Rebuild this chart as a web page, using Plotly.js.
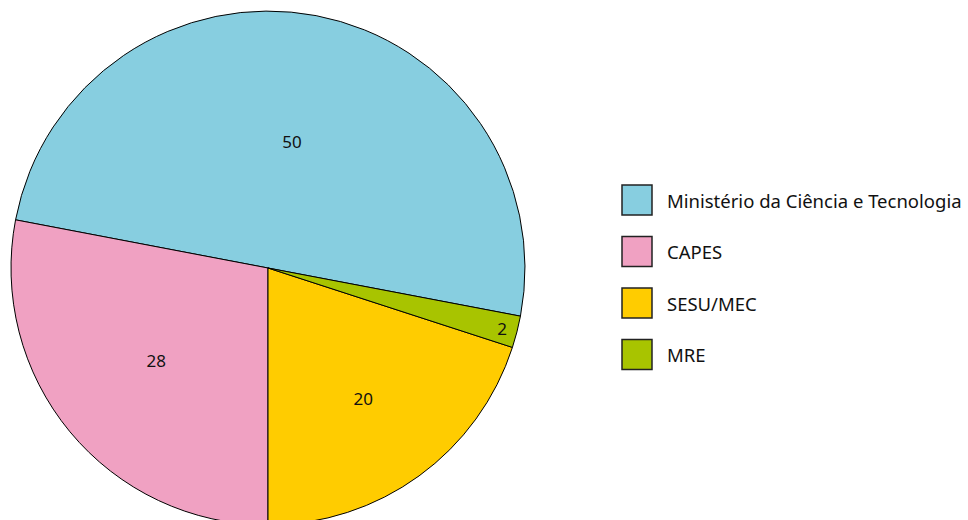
<!DOCTYPE html>
<html><head><meta charset="utf-8">
<script src="https://cdn.plot.ly/plotly-3.0.1.min.js"></script>
<style>html,body{margin:0;padding:0;overflow:hidden;background:#fff;width:968px;height:520px}</style>
</head><body>
<div id="chart" style="width:968px;height:540px"></div>
<script>
const categories = ["Ministério da Ciência e Tecnologia", "CAPES", "SESU/MEC", "MRE"];
const values = [50, 28, 20, 2];
const colors = ["#87CEE0", "#F0A1C2", "#FFCC00", "#A8C400"];

const W = 968, H = 540;
const FONT = "Noto Sans, Open Sans, sans-serif";

const shapes = [], annotations = [];
const legX = 622, legY0 = 185, legStep = 51.5, box = 30;
categories.forEach((c, i) => {
  const top = legY0 + i * legStep;
  shapes.push({type: "rect", xref: "paper", yref: "paper",
    x0: legX / W, x1: (legX + box) / W, y0: (H - top - box) / H, y1: (H - top) / H,
    fillcolor: colors[i], line: {color: "#222", width: 1.5}});
  annotations.push({xref: "paper", yref: "paper", x: (legX + 43) / W, y: (H - top - box / 2) / H,
    xanchor: "left", yanchor: "middle", showarrow: false, text: c,
    font: {family: FONT, size: 18.5, color: "#111"}});
});

const trace = {
  type: "pie", labels: categories, values: values, sort: false,
  direction: "counterclockwise", rotation: -79.2,
  marker: {colors: colors, line: {color: "#000", width: 1}},
  textinfo: "value", textposition: "inside", insidetextorientation: "horizontal",
  textfont: {family: FONT, size: 17, color: "#111"},
  hoverinfo: "none",
  domain: {x: [11 / W, 525 / W], y: [(H - 525) / H, (H - 11) / H]}
};

Plotly.newPlot("chart", [trace], {
  width: W, height: H, margin: {l: 0, r: 0, t: 0, b: 0},
  paper_bgcolor: "#fff", showlegend: false, shapes, annotations
}, {staticPlot: true});
</script>
</body></html>
